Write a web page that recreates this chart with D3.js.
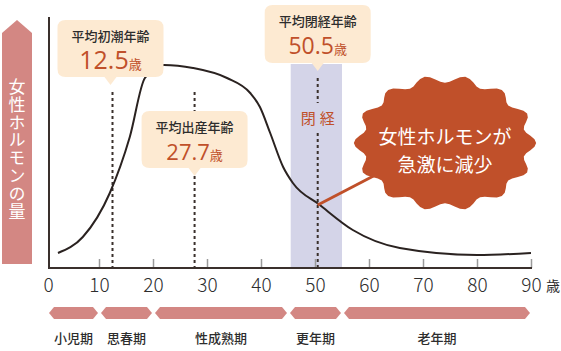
<!DOCTYPE html>
<html>
<head>
<meta charset="utf-8">
<script src="https://cdn.jsdelivr.net/npm/d3@7"></script>
<style>
  body { margin: 0; background: #fff; }
  text { font-family: "Noto Sans CJK JP", "Noto Sans", sans-serif; }
</style>
</head>
<body>
<div id="chart"></div>
<script>
// hormone curve
const ages = [2.4, 7, 12, 15.7, 18.5, 22, 27.4, 33.7, 38, 39.8, 41.7, 44.1, 45.9, 50.9, 57, 65.7, 80, 90]
const levels = [6, 12.4, 30, 52.4, 76, 81.2, 80, 76, 70, 64.4, 54, 40.4, 34, 25.2, 15.2, 8, 5.2, 6]

const tickValues = [0, 10, 20, 30, 40, 50, 60, 70, 80, 90]

const markerTitles = ['平均初潮年齢', '平均出産年齢', '平均閉経年齢']
const markerAges = [12.5, 27.7, 50.5]

const periodNames = ['小児期', '思春期', '性成熟期', '更年期', '老年期']
const periodStarts = [0, 10, 20, 45, 55]
const periodEnds = [10, 20, 45, 55, 90]

const menoBand = [45.5, 55]
const burstLines = ['女性ホルモンが', '急激に減少']

const width = 561
const height = 351
const red = '#c0502a'
const pink = '#d38783'
const peach = '#fdead2'
const ink = '#3a302c'

const xScale = d3.scaleLinear().domain([0, 90]).range([45, 531])
const yScale = d3.scaleLinear().domain([0, 100]).range([268, 18])

const svg = d3.select('#chart').append('svg').attr('width', width).attr('height', height)

// menopause band
svg.append('rect')
    .attr('x', xScale(menoBand[0]))
    .attr('y', 64)
    .attr('width', xScale(menoBand[1]) - xScale(menoBand[0]))
    .attr('height', yScale(0) - 64)
    .attr('fill', '#d4d4e8')

// left arrow with vertical label
svg.append('path')
    .attr('d', 'M2,33 L17,20 L32,33 L32,264 L2,264 Z')
    .attr('fill', pink)

svg.append('text')
    .attr('x', 17)
    .attr('y', 78)
    .attr('writing-mode', 'vertical-rl')
    .attr('font-size', '17px')
    .attr('letter-spacing', '0.8px')
    .attr('fill', '#fff')
    .text('女性ホルモンの量')

// dotted marker lines
const dotTops = [92, 92, 78]
markerAges.forEach(function(a, i) {
    if (i === 2) {
        svg.append('line')
            .attr('x1', xScale(a)).attr('x2', xScale(a))
            .attr('y1', dotTops[i]).attr('y2', 103)
            .attr('stroke', ink).attr('stroke-width', 2).attr('stroke-dasharray', '3,3')
        svg.append('line')
            .attr('x1', xScale(a)).attr('x2', xScale(a))
            .attr('y1', 133).attr('y2', yScale(0))
            .attr('stroke', ink).attr('stroke-width', 2).attr('stroke-dasharray', '3,3')
    } else {
        svg.append('line')
            .attr('x1', xScale(a)).attr('x2', xScale(a))
            .attr('y1', dotTops[i]).attr('y2', yScale(0))
            .attr('stroke', ink).attr('stroke-width', 2).attr('stroke-dasharray', '3,3')
    }
})

svg.append('text')
    .attr('x', xScale(markerAges[2]) + 2)
    .attr('y', 124)
    .attr('text-anchor', 'middle')
    .attr('font-size', '15px')
    .attr('letter-spacing', '4px')
    .attr('fill', red)
    .text('閉経')

// curve
const points = ages.map(function(a, i) { return [a, levels[i]] })
const line = d3.line()
    .x(function(d) { return xScale(d[0]) })
    .y(function(d) { return yScale(d[1]) })
    .curve(d3.curveMonotoneX)

svg.append('path')
    .datum(points)
    .attr('d', line)
    .attr('fill', 'none')
    .attr('stroke', '#2a2220')
    .attr('stroke-width', 2)

// axes
const xAxis = d3.axisBottom(xScale)
    .tickValues(tickValues)
    .tickSize(-9)
    .tickPadding(11)
    .tickFormat(d3.format('d'))

const gx = svg.append('g')
    .attr('transform', 'translate(0,' + yScale(0) + ')')
    .call(xAxis)
gx.select('.domain').remove()
gx.selectAll('.tick line').attr('stroke', '#9a9a9a').attr('stroke-width', 1.5)
    .attr('opacity', function(d) { return d === 0 ? 0 : 1 })
gx.selectAll('.tick text')
    .attr('font-size', '19px')
    .attr('font-weight', 300)
    .attr('fill', '#2d2d2d')
    .attr('x', function(d) { return d === 0 ? 3 : 0 })

svg.append('text')
    .attr('x', 546)
    .attr('y', 291)
    .attr('font-size', '14px')
    .attr('fill', '#2d2d2d')
    .text('歳')

svg.append('path')
    .attr('d', 'M49,17 L49,268 L532,268')
    .attr('fill', 'none')
    .attr('stroke', ink)
    .attr('stroke-width', 2)

// callouts
function callout(cx, y0, w, h, tipY) {
    const x0 = cx - w / 2
    const r = 8
    const y1 = y0 + h
    return 'M' + (x0 + r) + ',' + y0 +
        ' L' + (x0 + w - r) + ',' + y0 +
        ' Q' + (x0 + w) + ',' + y0 + ' ' + (x0 + w) + ',' + (y0 + r) +
        ' L' + (x0 + w) + ',' + (y1 - r) +
        ' Q' + (x0 + w) + ',' + y1 + ' ' + (x0 + w - r) + ',' + y1 +
        ' L' + (cx + 6) + ',' + y1 +
        ' L' + cx + ',' + tipY +
        ' L' + (cx - 6) + ',' + y1 +
        ' L' + (x0 + r) + ',' + y1 +
        ' Q' + x0 + ',' + y1 + ' ' + x0 + ',' + (y1 - r) +
        ' L' + x0 + ',' + (y0 + r) +
        ' Q' + x0 + ',' + y0 + ' ' + (x0 + r) + ',' + y0 + ' Z'
}

const boxTops = [20, 111, 5]
const boxHeights = [57, 57, 58]
const valueSizes = [25, 22, 23]
markerAges.forEach(function(a, i) {
    const cx = xScale(a) - (i === 0 ? 2 : 0)
    const top = boxTops[i]
    svg.append('path')
        .attr('d', callout(cx, top, 106, boxHeights[i], top + boxHeights[i] + 8))
        .attr('fill', peach)
    svg.append('text')
        .attr('x', cx)
        .attr('y', top + 21)
        .attr('text-anchor', 'middle')
        .attr('font-size', '13px')
        .attr('font-weight', 500)
        .attr('fill', '#2d2d2d')
        .text(markerTitles[i])
    const t = svg.append('text')
        .attr('x', cx)
        .attr('y', top + 49)
        .attr('text-anchor', 'middle')
        .attr('fill', red)
    t.append('tspan')
        .attr('font-size', valueSizes[i] + 'px')
        .attr('font-family', '"Open Sans", "Noto Sans", sans-serif')
        .text(d3.format('.1f')(a))
    t.append('tspan')
        .attr('font-size', '13px')
        .text('歳')
})

// starburst
const burstCx = 445
const burstCy = 143
const burstPts = d3.range(0, 112).map(function(i) {
    const th = i / 112 * Math.PI * 2
    const k = 1 + 0.06 * Math.cos(th * 14)
    return [burstCx + Math.cos(th) * 86 * k, burstCy + Math.sin(th) * 64 * k]
})

const menoLevel = levels[ages.indexOf(50.9)]
svg.append('line')
    .attr('x1', xScale(markerAges[2]))
    .attr('y1', yScale(menoLevel))
    .attr('x2', 385)
    .attr('y2', 170)
    .attr('stroke', red)
    .attr('stroke-width', 3)

svg.append('path')
    .attr('d', d3.line().curve(d3.curveLinearClosed)(burstPts))
    .attr('fill', red)

svg.selectAll('.burst-text')
    .data(burstLines)
    .enter()
    .append('text')
    .attr('class', 'burst-text')
    .attr('x', burstCx)
    .attr('y', function(d, i) { return 144 + i * 28 })
    .attr('text-anchor', 'middle')
    .attr('font-size', '19px')
    .attr('fill', '#fff')
    .text(function(d) { return d })

// life periods
function chevron(x0, x1, cy) {
    const h = 6
    const p = 5
    return 'M' + x0 + ',' + cy +
        ' L' + (x0 + p) + ',' + (cy - h) +
        ' L' + (x1 - p) + ',' + (cy - h) +
        ' L' + x1 + ',' + cy +
        ' L' + (x1 - p) + ',' + (cy + h) +
        ' L' + (x0 + p) + ',' + (cy + h) + ' Z'
}

periodNames.forEach(function(name, i) {
    const x0 = xScale(periodStarts[i]) + (i === 0 ? 4 : 2)
    const x1 = xScale(periodEnds[i]) - 1
    svg.append('path')
        .attr('d', chevron(x0, x1, 313))
        .attr('fill', pink)
    svg.append('text')
        .attr('x', (x0 + x1) / 2)
        .attr('y', 343)
        .attr('text-anchor', 'middle')
        .attr('font-size', '13px')
        .attr('font-weight', 500)
        .attr('fill', '#2d2d2d')
        .text(name)
})
</script>
</body>
</html>
